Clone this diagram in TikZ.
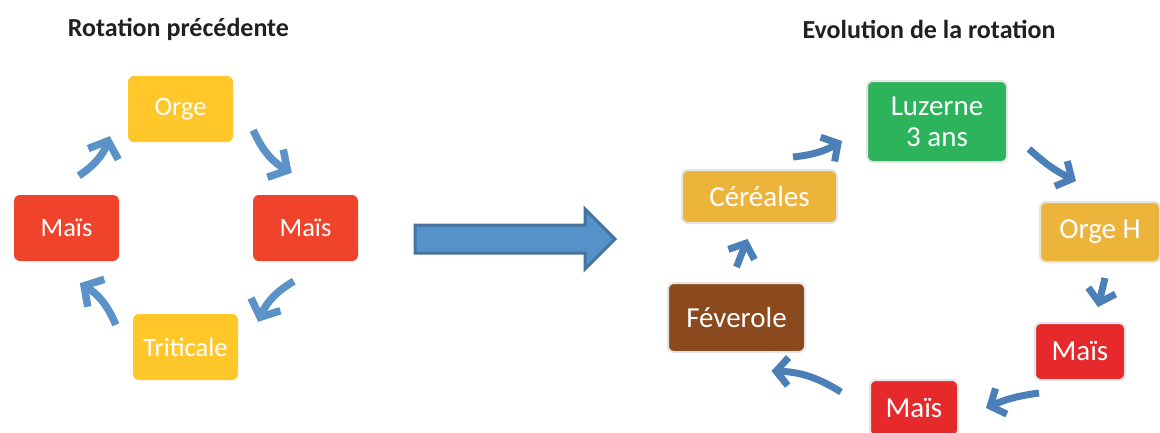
\documentclass[tikz,border=0pt]{standalone}
\usepackage{fontspec}
\setmainfont{Carlito}
\usepackage{tikz}
\usetikzlibrary{arrows.meta}
\definecolor{rotyellow}{HTML}{FFC72A}
\definecolor{rotred}{HTML}{EF432C}
\definecolor{evogreen}{HTML}{2DB35B}
\definecolor{evoyellow}{HTML}{EDB43C}
\definecolor{evored}{HTML}{E6292B}
\definecolor{evobrown}{HTML}{8B4A1D}
\definecolor{arrblue}{HTML}{5B93C8}
\definecolor{arrdark}{HTML}{4B7FB7}
\definecolor{bigfill}{HTML}{5592C9}
\definecolor{bigline}{HTML}{46729E}
\definecolor{titlegray}{HTML}{231F20}

\begin{document}
\begin{tikzpicture}[x=1pt,y=-1pt,
  every node/.style={text=white},
  title/.style={text=titlegray,font=\fontsize{26}{30}\selectfont\bfseries},
  lbox/.style={rounded corners=6pt,minimum width=105pt,minimum height=66pt,inner sep=0pt,font=\fontsize{26.5}{30}\selectfont},
  rbox/.style={draw=black!10,line width=2pt,rounded corners=6pt,inner sep=0pt,align=center,font=\fontsize{29}{31}\selectfont},
  arr/.style={-{Straight Barb[length=14pt,width=32pt]},line width=7.5pt,draw=arrblue},
  arrr/.style={-{Straight Barb[length=12pt,width=28pt]},line width=7pt,draw=arrdark}
]
\useasboundingbox (0,0) rectangle (1160,432);
\fill[white] (0,0) rectangle (1160,432);

% titles
\node[title] (ttlold) at (178.5,29) {Rotation précédente};
\node[title] (ttlnew) at (929,29) {Evolution de la rotation};

% previous rotation
\node[lbox,fill=rotyellow] (orge) at (180.5,109) {Orge};
\node[lbox,fill=rotred] (maisd) at (305.5,228) {Maïs};
\node[lbox,fill=rotyellow] (trit) at (185.5,347) {Triticale};
\node[lbox,fill=rotred] (maisg) at (66.5,228) {Maïs};
\draw[arr] ([shift={(20,-12)}]orge.south east) to[bend right=18] ([shift={(39,-22)}]maisd.north west);
\draw[arr] ([shift={(41,20)}]maisd.south west) to[bend right=18] ([shift={(20,8)}]trit.north east);
\draw[arr] ([shift={(-17,11)}]trit.north west) to[bend right=18] ([shift={(66,22)}]maisg.south west);
\draw[arr] ([shift={(65,-19)}]maisg.north west) to[bend right=18] ([shift={(-18,-6)}]orge.south west);

% big arrow
\draw[fill=bigfill,draw=bigline,line width=3pt,line join=miter] (415,225) -- (585,225) -- (585,209) -- (615,239) -- (585,269) -- (585,253) -- (415,253) -- cycle;

% new rotation
\node[rbox,fill=evogreen,minimum width=140pt,minimum height=81pt] (luz) at (937,121.5) {Luzerne\\3 ans};
\node[rbox,fill=evoyellow,minimum width=120pt,minimum height=60pt] (orgh) at (1100,232) {Orge H};
\node[rbox,fill=evored,minimum width=90pt,minimum height=57pt] (mais1) at (1080,351.5) {Maïs};
\node[rbox,fill=evored,minimum width=88pt,minimum height=56pt] (mais2) at (914,408) {Maïs};
\node[rbox,fill=evobrown,minimum width=137pt,minimum height=69pt] (fev) at (736.5,317.5) {Féverole};
\node[rbox,fill=evoyellow,minimum width=155pt,minimum height=53pt] (cer) at (759.5,196.5) {Céréales};
\draw[arrr] ([shift={(-45,-12)}]cer.north east) to[bend right=12] ([shift={(-24,-22)}]luz.south west);
\draw[arrr] ([shift={(21,-14)}]luz.south east) to[bend right=8] ([shift={(37,-20)}]orgh.north west);
\draw[arrr] ([shift={(5,15)}]orgh.south) to ([shift={(18,-15)}]mais1.north);
\draw[arrr] ([shift={(5,12)}]mais1.south west) to[bend right=8] ([shift={(27,0)}]mais2.east);
\draw[arrr] ([shift={(-28,-16)}]mais2.west) to[bend right=15] ([shift={(35,18)}]fev.south);
\draw[arrr] ([shift={(0,-15)}]fev.north) to ([shift={(-12,15)}]cer.south);
\end{tikzpicture}
\end{document}
